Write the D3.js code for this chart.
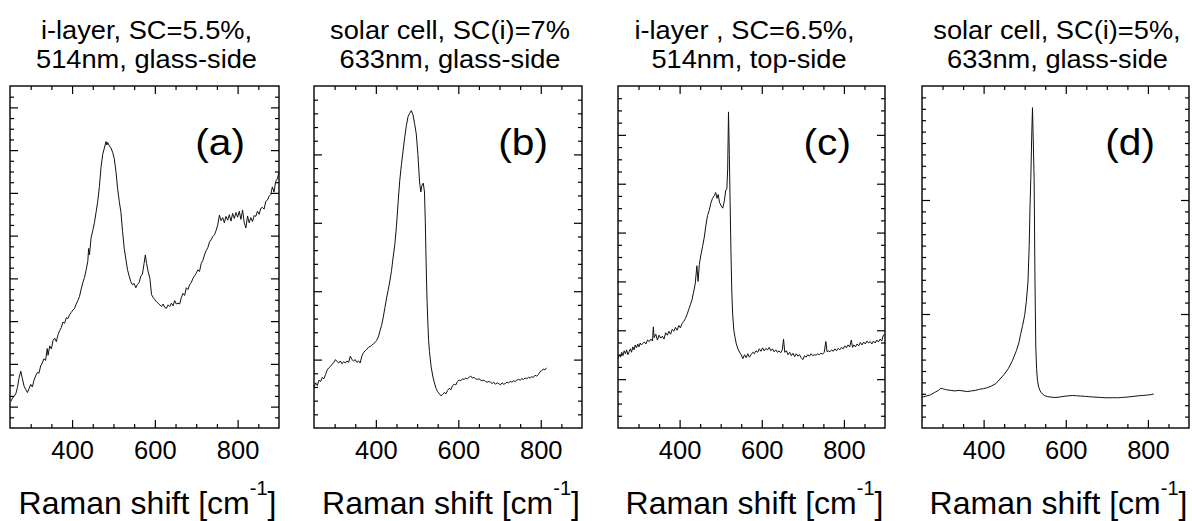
<!DOCTYPE html>
<html><head><meta charset="utf-8">
<script src="https://cdn.jsdelivr.net/npm/d3@7"></script>
<style>
html,body{margin:0;padding:0;background:#fff;}
svg{display:block;}
text{font-family:"Liberation Sans",Arial,sans-serif;fill:#000;}
</style></head>
<body>
<svg id="chart" width="1192" height="521"></svg>
<script>
// ---------------- data ----------------
const titlesLine1 = ["i-layer, SC=5.5%,", "solar cell, SC(i)=7%", "i-layer , SC=6.5%,", "solar cell, SC(i)=5%,"];
const titlesLine2 = ["514nm, glass-side", "633nm, glass-side", "514nm, top-side", "633nm, glass-side"];
const panelLetters = ["(a)", "(b)", "(c)", "(d)"];
const xTickLabels = [400, 600, 800];
const axisLabel = "Raman shift [cm";
const axisLabelSup = "-1";

const shiftA = [252,256,260,264,268,272,276,280,284,288,292,296,300,304,308,312,316,320,324,328,332,336,340,342,346,350,354,358,362,366,370,374,378,382,386,390,394,398,402,406,410,414,418,422,426,430,434,438,440,442,446,450,454,458,462,466,470,474,478,482,484,486,490,494,498,502,506,510,514,518,522,526,530,534,538,542,546,550,554,558,562,566,570,574,577,580,584,588,592,596,600,604,608,612,616,620,624,628,632,636,640,644,648,652,656,660,664,668,672,676,680,684,688,692,696,700,704,708,712,716,720,724,728,732,736,740,744,748,752,756,760,764,768,772,776,780,784,788,792,796,800,804,808,812,816,820,824,828,832,836,840,844,848,852,856,860,864,868,872,876,880,884,888,892,896,900];
const intensityA = [0.62,0.70,0.74,0.80,0.95,1.18,1.33,1.15,0.98,0.90,0.83,0.92,1.02,0.96,1.12,1.22,1.30,1.28,1.45,1.52,1.62,1.58,1.86,1.70,1.92,1.85,2.05,2.10,2.02,2.18,2.28,2.35,2.48,2.45,2.58,2.56,2.65,2.70,2.76,2.80,2.90,2.98,3.08,3.25,3.40,3.52,3.70,3.90,4.20,4.05,4.45,4.62,4.80,5.05,5.30,5.65,6.10,6.40,6.55,6.70,6.62,6.68,6.60,6.55,6.45,6.30,6.00,5.60,5.30,5.05,4.60,4.20,3.95,3.70,3.55,3.42,3.35,3.38,3.28,3.36,3.40,3.55,3.60,3.85,4.05,3.85,3.65,3.50,3.12,3.05,3.00,2.95,2.92,2.88,2.84,2.90,2.82,2.80,2.88,2.84,2.92,2.86,2.98,2.90,2.92,2.90,3.05,3.15,3.10,3.28,3.24,3.35,3.40,3.50,3.56,3.62,3.70,3.66,3.85,3.92,4.05,4.15,4.22,4.35,4.40,4.48,4.52,4.62,4.75,4.98,4.85,4.92,4.80,4.95,4.86,4.99,4.84,5.02,4.90,5.04,4.93,5.07,4.88,5.10,4.80,4.68,4.96,4.80,4.92,4.83,4.97,4.95,5.07,5.00,5.14,5.16,5.12,5.30,5.33,5.42,5.46,5.64,5.52,5.77,5.83,5.98];

const shiftB = [250,254,258,262,266,270,274,278,282,286,290,294,298,302,306,310,314,318,322,326,330,334,338,342,346,350,354,358,362,366,370,374,378,382,386,390,394,398,402,406,410,414,418,422,426,430,434,438,442,446,450,454,458,462,466,470,474,478,482,486,490,494,498,502,506,509,512,515,518,520,522,524,526,528,530,534,538,542,546,550,554,558,562,566,570,574,578,582,586,590,594,598,602,606,610,614,618,622,626,630,634,638,642,646,650,654,658,662,666,670,674,678,682,686,690,694,698,702,706,710,714,718,722,726,730,734,738,742,746,750,754,758,762,766,770,774,778,782,786,790,794,798,802,806,810,814];
const intensityB = [0.60,0.66,0.62,0.70,0.68,0.74,0.72,0.78,0.85,0.88,0.90,0.93,0.96,1.00,0.97,0.95,0.98,0.94,0.97,0.95,0.98,0.96,1.05,1.00,0.98,1.00,0.96,0.98,0.95,1.05,1.10,1.13,1.15,1.18,1.19,1.21,1.23,1.25,1.28,1.33,1.42,1.50,1.62,1.76,1.90,2.02,2.15,2.30,2.50,2.68,2.95,3.30,3.62,3.85,4.05,4.25,4.42,4.55,4.60,4.64,4.58,4.45,4.30,4.00,3.60,3.45,3.55,3.58,3.45,3.00,2.40,1.90,1.55,1.28,1.12,0.90,0.76,0.66,0.58,0.53,0.50,0.47,0.49,0.52,0.50,0.55,0.58,0.56,0.62,0.64,0.63,0.68,0.70,0.69,0.72,0.71,0.73,0.72,0.74,0.76,0.73,0.74,0.72,0.71,0.72,0.70,0.69,0.70,0.68,0.67,0.68,0.67,0.65,0.67,0.64,0.66,0.65,0.63,0.66,0.64,0.65,0.67,0.66,0.68,0.67,0.69,0.68,0.70,0.71,0.70,0.72,0.71,0.73,0.72,0.74,0.73,0.75,0.74,0.77,0.76,0.78,0.82,0.84,0.86,0.85,0.88];

const shiftC = [250,253,256,259,262,265,268,271,274,277,280,283,286,289,292,295,298,301,304,307,310,314,318,322,326,330,334,336,338,342,346,350,354,358,362,366,370,374,378,382,386,390,394,398,402,406,410,414,418,422,426,430,434,438,442,445,448,452,456,460,464,468,472,476,480,484,488,491,494,497,501,505,509,512,515,517,519,521,523,525,527,529,532,535,538,542,546,550,554,558,562,566,570,574,578,582,586,590,594,598,602,606,610,614,618,622,626,630,634,638,642,646,650,653,656,660,664,668,672,676,680,684,688,692,696,700,704,708,712,716,720,724,728,732,736,740,744,748,752,756,759,762,766,770,774,778,782,786,790,794,798,802,806,810,814,818,821,824,828,832,836,840,844,848,852,856,860,864,868,872,876,880,884,888,892,896,900];
const intensityC = [1.42,1.50,1.45,1.55,1.48,1.58,1.52,1.60,1.50,1.56,1.62,1.55,1.66,1.60,1.70,1.64,1.72,1.66,1.74,1.70,1.73,1.76,1.72,1.80,1.77,1.82,1.78,2.07,1.85,1.92,1.80,1.90,1.84,1.88,1.82,1.95,1.90,1.98,1.92,2.02,1.98,2.06,2.00,2.10,2.05,2.14,2.18,2.24,2.32,2.42,2.52,2.62,2.78,2.95,3.32,3.00,3.35,3.55,3.72,3.90,4.15,4.35,4.45,4.60,4.70,4.75,4.82,4.70,4.78,4.62,4.55,4.50,4.65,4.85,4.90,5.30,6.47,5.60,4.60,3.60,2.80,2.35,2.00,1.85,1.72,1.62,1.55,1.50,1.42,1.50,1.44,1.52,1.45,1.50,1.55,1.52,1.58,1.55,1.62,1.57,1.64,1.58,1.63,1.60,1.65,1.58,1.62,1.56,1.60,1.55,1.58,1.54,1.60,1.82,1.55,1.58,1.50,1.55,1.48,1.53,1.46,1.52,1.47,1.50,1.44,1.40,1.48,1.45,1.50,1.47,1.52,1.48,1.50,1.49,1.52,1.50,1.53,1.51,1.55,1.77,1.56,1.58,1.56,1.60,1.57,1.62,1.58,1.63,1.60,1.65,1.62,1.68,1.64,1.70,1.66,1.80,1.65,1.70,1.66,1.72,1.68,1.75,1.70,1.76,1.72,1.78,1.74,1.77,1.72,1.78,1.74,1.80,1.76,1.82,1.78,1.90,1.92];

const shiftD = [250,260,270,280,290,296,300,305,310,320,330,340,350,360,370,380,390,400,410,420,430,440,450,460,470,480,486,490,495,500,504,508,511,513,515,517,519,521,523,525,527,529,531,534,537,540,548,556,566,576,586,596,606,616,626,636,646,656,666,676,686,696,706,716,726,736,746,756,766,776,786,796,806,814];
const intensityD = [0.27,0.28,0.29,0.31,0.33,0.35,0.345,0.34,0.335,0.33,0.325,0.33,0.325,0.32,0.325,0.33,0.34,0.345,0.355,0.37,0.39,0.43,0.47,0.52,0.59,0.68,0.75,0.82,0.90,0.99,1.11,1.28,1.60,1.95,2.20,2.55,2.81,2.50,2.18,1.30,0.71,0.52,0.42,0.36,0.33,0.31,0.285,0.275,0.27,0.268,0.272,0.278,0.282,0.285,0.283,0.28,0.278,0.275,0.272,0.27,0.268,0.265,0.265,0.266,0.265,0.268,0.27,0.274,0.278,0.282,0.285,0.288,0.292,0.298];

const shifts = [shiftA, shiftB, shiftC, shiftD];
const intensities = [intensityA, intensityB, intensityC, intensityD];
const yMaxes = [8, 5, 7, 3];          // y-axis span in arbitrary units
const yMajorStart = [0.5, 0, 0, 0];
const yMinorSteps = [0.25, 0.2, 0.25, 0.1];

// ---------------- layout ----------------
const svg = d3.select("#chart");
const panelLeft = [10, 314, 618, 922];
const panelRight = [279, 582, 885, 1189];
const plotTop = 86, plotBottom = 428;
const titleDx = [2, 2, -7, 1.5];
const title2Dx = [2, 2, -2.5, 2];
const stretch = 1.09;

function range(a, b, s) { const r = []; for (let v = a; v <= b + 1e-9; v += s) r.push(+v.toFixed(4)); return r; }

for (let i = 0; i < 4; i++) {
  const L = panelLeft[i], R = panelRight[i];
  const x = d3.scaleLinear().domain([250, 900]).range([L, R]);
  const y = d3.scaleLinear().domain([0, yMaxes[i]]).range([plotBottom, plotTop]);
  const g = svg.append("g");

  const xMinor = range(300, 850, 50).filter(v => v % 200 !== 0);
  const yAll = range(yMinorSteps[i], yMaxes[i] - 1e-6, yMinorSteps[i]);
  const frac = v => ((v - yMajorStart[i]) % 1 + 1) % 1;
  const isMajor = v => frac(v) < 1e-6 || Math.abs(frac(v) - 1) < 1e-6;
  const yMajor = yAll.filter(isMajor);
  const yMinor = yAll.filter(v => !isMajor(v));

  const styleAxis = sel => { sel.select(".domain").remove(); sel.selectAll("line").attr("stroke", "#000").attr("stroke-width", 1.2); };

  // bottom
  g.append("g").attr("transform", `translate(0,${plotBottom})`)
    .call(d3.axisBottom(x).tickValues(xTickLabels).tickSize(-8).tickPadding(13).tickFormat(d3.format("d")))
    .call(styleAxis)
    .call(s => s.selectAll("text").attr("font-size", 25.5).attr("font-family", "Liberation Sans, Arial, sans-serif").attr("fill", "#000"));
  g.append("g").attr("transform", `translate(0,${plotBottom})`)
    .call(d3.axisBottom(x).tickValues(xMinor).tickSize(-4).tickFormat("")).call(styleAxis);
  // top
  g.append("g").attr("transform", `translate(0,${plotTop})`)
    .call(d3.axisTop(x).tickValues(xTickLabels).tickSize(-8).tickFormat("")).call(styleAxis);
  g.append("g").attr("transform", `translate(0,${plotTop})`)
    .call(d3.axisTop(x).tickValues(xMinor).tickSize(-4).tickFormat("")).call(styleAxis);
  // left
  g.append("g").attr("transform", `translate(${L},0)`)
    .call(d3.axisLeft(y).tickValues(yMajor).tickSize(-8).tickFormat("")).call(styleAxis);
  g.append("g").attr("transform", `translate(${L},0)`)
    .call(d3.axisLeft(y).tickValues(yMinor).tickSize(-4).tickFormat("")).call(styleAxis);
  // right
  g.append("g").attr("transform", `translate(${R},0)`)
    .call(d3.axisRight(y).tickValues(yMajor).tickSize(-8).tickFormat("")).call(styleAxis);
  g.append("g").attr("transform", `translate(${R},0)`)
    .call(d3.axisRight(y).tickValues(yMinor).tickSize(-4).tickFormat("")).call(styleAxis);

  // frame
  g.append("rect").attr("x", L).attr("y", plotTop).attr("width", R - L).attr("height", plotBottom - plotTop)
    .attr("fill", "none").attr("stroke", "#000").attr("stroke-width", 1.4);

  // spectrum
  const pts = shifts[i].map((s, k) => [s, intensities[i][k]]);
  g.append("path").datum(pts)
    .attr("fill", "none").attr("stroke", "#111").attr("stroke-width", 1)
    .attr("d", d3.line().x(d => x(d[0])).y(d => y(d[1])));

  // panel letter
  g.append("text").attr("transform", `translate(${R - 34},155) scale(1.13,1)`).attr("text-anchor", "end")
    .attr("font-size", 36).text(panelLetters[i]);

  // titles
  const cx = (L + R) / 2;
  g.append("text").attr("transform", `translate(${cx + titleDx[i]},39) scale(${stretch},1)`).attr("text-anchor", "middle")
    .attr("font-size", 25).text(titlesLine1[i]);
  g.append("text").attr("transform", `translate(${cx + title2Dx[i]},68) scale(${stretch},1)`).attr("text-anchor", "middle")
    .attr("font-size", 25).text(titlesLine2[i]);

  // axis label
  const t = g.append("text").attr("x", cx + 3).attr("y", 514).attr("text-anchor", "middle").attr("font-size", 32);
  t.append("tspan").text(axisLabel);
  t.append("tspan").attr("font-size", 20).attr("dy", -19).text(axisLabelSup);
  t.append("tspan").attr("dy", 19).text("]");
}
</script>
</body></html>
